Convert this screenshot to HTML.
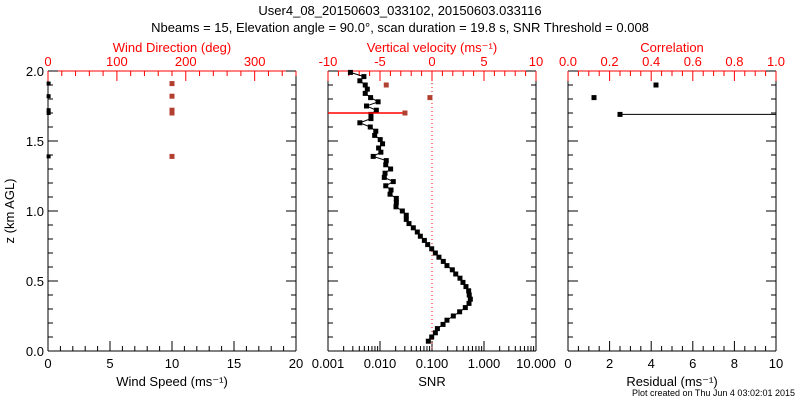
<!DOCTYPE html>
<html><head><meta charset="utf-8"><style>
body{margin:0;background:#fff;width:800px;height:400px;overflow:hidden}
svg{font-family:"Liberation Sans",sans-serif}
</style></head><body>
<svg id="c" width="800" height="400">
<text x="400" y="15" text-anchor="middle" font-size="13">User4_08_20150603_033102, 20150603.033116</text>
<text x="400" y="32" text-anchor="middle" font-size="13">Nbeams = 15, Elevation angle = 90.0°, scan duration = 19.8 s, SNR Threshold = 0.008</text>
<text x="795" y="396" text-anchor="end" font-size="9">Plot created on Thu Jun  4 03:02:01 2015</text>
</svg>
<script>
const windZ=[1.91,1.82,1.72,1.70,1.39];
const windSpeed=[0.05,0.05,0.05,0.05,0.05];
const windDir=[180,180,180,180,180];
const snrZ=[1.99,1.96,1.93,1.90,1.87,1.84,1.81,1.78,1.75,1.72,1.69,1.66,1.63,1.60,1.57,1.54,1.51,1.48,1.45,1.42,1.39,1.36,1.33,1.30,1.27,1.24,1.21,1.18,1.15,1.12,1.09,1.06,1.03,1.00,0.97,0.94,0.91,0.88,0.85,0.82,0.79,0.76,0.73,0.70,0.67,0.64,0.61,0.58,0.55,0.52,0.49,0.46,0.43,0.40,0.37,0.34,0.31,0.28,0.25,0.22,0.19,0.16,0.13,0.10,0.07];
const snrVals=[0.0027,0.0049,0.0041,0.0052,0.0057,0.0052,0.0066,0.0092,0.0055,0.0085,0.0067,0.0067,0.0041,0.0065,0.0083,0.0079,0.0101,0.0112,0.0094,0.0104,0.0074,0.0132,0.0129,0.016,0.0125,0.0121,0.018,0.0129,0.0163,0.0156,0.0206,0.0206,0.0203,0.0269,0.032,0.032,0.0361,0.0437,0.0522,0.0597,0.0713,0.0826,0.0987,0.116,0.136,0.165,0.194,0.246,0.286,0.345,0.394,0.45,0.507,0.52,0.546,0.515,0.437,0.34,0.257,0.194,0.163,0.127,0.116,0.0987,0.085];
const velZ=[1.90,1.81,1.70];
const velVals=[-4.4,-0.2,-2.6];
const velErr=[0,0,10];
const resZ=[1.90,1.81,1.69];
const resVals=[4.23,1.25,2.5];
const resErr=[0,0,10];
const zTicks=["0.0","0.5","1.0","1.5","2.0"];
const NS='http://www.w3.org/2000/svg';
const svg=document.getElementById('c');
const Y0=351,Y1=71;
const zy=z=>Y0-(z/2)*(Y0-Y1);
function el(t,a,p){const e=document.createElementNS(NS,t);for(const k in a)e.setAttribute(k,a[k]);(p||svg).appendChild(e);return e;}
function txt(x,y,s,col,anc,sz,p){const e=el('text',{x:x,y:y,fill:col,'text-anchor':anc||'middle','font-size':sz||13},p);e.textContent=s;return e;}
function panel(name,x0,x1){
 const g=el('g',{});
 
 
 el('line',{x1:x0,y1:Y0,x2:x1,y2:Y0,stroke:'#000'},g);
 el('line',{x1:x0,y1:Y0,x2:x0,y2:Y1,stroke:'#000'},g);
 el('line',{x1:x1,y1:Y0,x2:x1,y2:Y1,stroke:'#000'},g);
 el('line',{x1:x0,y1:Y1,x2:x1,y2:Y1,stroke:'red'},g);
 for(let i=0;i<=20;i++){const y=zy(i*0.1);const L=i%5==0?10:5;
  el('line',{x1:x0,y1:y,x2:x0+L,y2:y,stroke:'#000'},g);
  el('line',{x1:x1,y1:y,x2:x1-L,y2:y,stroke:'#000'},g);}
 return g;}
function linTicks(g,x0,x1,a,b,maj,mn,top,col,labels){
 const sx=v=>x0+(v-a)/(b-a)*(x1-x0);
 const n=Math.round((b-a)/mn);
 for(let i=0;i<=n;i++){const v=a+i*mn;const isM=Math.abs((v-a)/maj-Math.round((v-a)/maj))<1e-6;
  const x=sx(v);const L=isM?10:5;
  if(top)el('line',{x1:x,y1:Y1,x2:x,y2:Y1+L,stroke:col},g);else el('line',{x1:x,y1:Y0,x2:x,y2:Y0-L,stroke:col},g);}
 labels.forEach(l=>{txt(sx(+l),top?Y1-5:Y0+17,l,col,'middle',13,g);});
 return sx;}
// Left panel
let g=panel('wind-panel',48,296);
zTicks.forEach(l=>txt(44,zy(+l)+5,l,'#000','end',13,g));
const ty=txt(0,0,'z (km AGL)','#000','middle',13,g);ty.setAttribute('transform','translate(14,211) rotate(-90)');
const sxS=linTicks(g,48,296,0,20,5,1,false,'#000',["0","5","10","15","20"]);
const sxD=linTicks(g,48,296,0,360,100,20,true,'red',["0","100","200","300"]);
txt(172,386,'Wind Speed (ms⁻¹)','#000','middle',13,g);
txt(172,52,'Wind Direction (deg)','red','middle',13,g);
windZ.forEach((z,i)=>{
 const a=el('rect',{x:sxS(windSpeed[i])-2,y:zy(z)-2,width:4,height:4,fill:'#000'},g);
 
 
 const b=el('rect',{x:sxD(windDir[i])-2.5,y:zy(z)-2.5,width:5,height:5,fill:'#b04030'},g);
 
 });
// Middle panel
g=panel('snr-velocity-panel',328,536);
const lx=v=>328+(Math.log10(v)+3)*52;
for(let d=-3;d<1;d++)for(let m=1;m<10;m++){const x=328+(d+3+Math.log10(m))*52;const L=m==1?10:5;el('line',{x1:x,y1:Y0,x2:x,y2:Y0-L,stroke:'#000'},g);}
["0.001","0.010","0.100","1.000","10.000"].forEach(l=>txt(lx(+l),Y0+17,l,'#000','middle',13,g));
const sxV=linTicks(g,328,536,-10,10,5,1,true,'red',["-10","-5","0","5","10"]);
txt(432,386,'SNR','#000','middle',13,g);
txt(432,52,'Vertical velocity (ms⁻¹)','red','middle',13,g);
el('line',{x1:sxV(0),y1:Y1,x2:sxV(0),y2:Y0,stroke:'red','stroke-dasharray':'1,3'},g);
let pts=snrZ.map((z,i)=>lx(snrVals[i])+','+zy(z)).join(' ');
const pl=el('polyline',{points:pts,fill:'none',stroke:'#000','stroke-width':1},g);


snrZ.forEach((z,i)=>{const r=el('rect',{x:lx(snrVals[i])-2.5,y:zy(z)-2.5,width:5,height:5,fill:'#000'},g);
 
 });
velZ.forEach((z,i)=>{
 if(velErr[i]>0){const l=el('line',{x1:Math.max(328,sxV(velVals[i]-velErr[i])),y1:zy(z),x2:sxV(velVals[i]),y2:zy(z),stroke:'red','stroke-width':1.5},g);
  
  }
 const r=el('rect',{x:sxV(velVals[i])-2.5,y:zy(z)-2.5,width:5,height:5,fill:'#b04030'},g);
 
 });
// Right panel
g=panel('residual-correlation-panel',568,776);
const sxR=linTicks(g,568,776,0,10,2,0.5,false,'#000',["0","2","4","6","8","10"]);
linTicks(g,568,776,0,1,0.2,0.05,true,'red',["0.0","0.2","0.4","0.6","0.8","1.0"]);
txt(672,386,'Residual (ms⁻¹)','#000','middle',13,g);
txt(672,52,'Correlation','red','middle',13,g);
resZ.forEach((z,i)=>{
 if(resErr[i]>0){const l=el('line',{x1:sxR(resVals[i]),y1:zy(z),x2:Math.min(776,sxR(resVals[i]+resErr[i])),y2:zy(z),stroke:'#000'},g);
  
  }
 const r=el('rect',{x:sxR(resVals[i])-2.5,y:zy(z)-2.5,width:5,height:5,fill:'#000'},g);
 
 });
</script>
</body></html>
